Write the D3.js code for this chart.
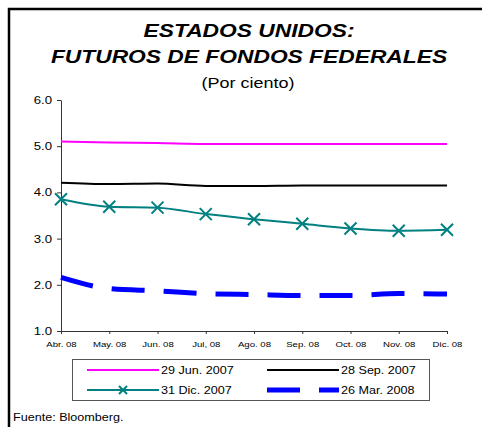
<!DOCTYPE html>
<html>
<head>
<meta charset="utf-8">
<script src="https://cdn.jsdelivr.net/npm/d3@7"></script>
<style>
  body { margin: 0; background: #fff; }
  svg { display: block; font-family: Arial, "Liberation Sans", sans-serif; }
</style>
</head>
<body>
<script>
// data
const months = ['Abr. 08', 'May. 08', 'Jun. 08', 'Jul, 08', 'Ago. 08', 'Sep. 08', 'Oct. 08', 'Nov. 08', 'Dic. 08'];
const jun2007 = [5.10, 5.08, 5.07, 5.05, 5.05, 5.05, 5.05, 5.05, 5.05];
const sep2007 = [4.21, 4.18, 4.19, 4.14, 4.14, 4.15, 4.15, 4.15, 4.15];
const dic2007 = [3.85, 3.69, 3.67, 3.53, 3.42, 3.32, 3.22, 3.17, 3.19];
const mar2008 = [2.16, 1.92, 1.87, 1.81, 1.79, 1.77, 1.77, 1.81, 1.80];
const yTicks = [1, 2, 3, 4, 5, 6];

const series = [
  {name: '29 Jun. 2007', values: jun2007, color: '#ff00ff', width: 2},
  {name: '28 Sep. 2007', values: sep2007, color: '#000000', width: 2},
  {name: '31 Dic. 2007', values: dic2007, color: '#008080', width: 2, marker: true},
  {name: '26 Mar. 2008', values: mar2008, color: '#0000ff', width: 5, dash: '33,19'}
];

const W = 482, H = 427;
const sx = 1.2; // the original text is stretched sideways

const svg = d3.select(document.body).append('svg')
  .attr('width', W)
  .attr('height', H);

// frame (left and top only)
svg.append('path')
  .attr('d', `M9,${H}V9H${W}`)
  .attr('fill', 'none')
  .attr('stroke', '#000')
  .attr('stroke-width', 2.5);

const addText = (x, y, str, size, opts = {}) =>
  svg.append('text')
    .attr('transform', `translate(${x},${y}) scale(${sx},1)`)
    .attr('text-anchor', opts.anchor || 'start')
    .attr('font-size', size)
    .attr('font-weight', opts.bold ? 'bold' : null)
    .attr('font-style', opts.italic ? 'italic' : null)
    .attr('fill', '#000')
    .text(str);

// titles
addText(249, 37, 'ESTADOS UNIDOS:', 19, {anchor: 'middle', bold: true, italic: true});
addText(249, 63, 'FUTUROS DE FONDOS FEDERALES', 19, {anchor: 'middle', bold: true, italic: true});
addText(248, 88, '(Por ciento)', 15, {anchor: 'middle'});

const x = d3.scalePoint().domain(months).range([61, 447]);
const y = d3.scaleLinear().domain([1, 6]).range([331, 100]);

// axes
const yAxis = svg.append('g')
  .attr('transform', 'translate(61,0)')
  .call(d3.axisLeft(y).tickValues(yTicks).tickFormat(d3.format('.1f')).tickSize(4).tickSizeOuter(0));
yAxis.selectAll('text')
  .attr('x', -7.5)
  .attr('font-size', 11)
  .attr('fill', '#000')
  .attr('font-family', 'Arial, "Liberation Sans", sans-serif')
  .attr('transform', `scale(${sx},1)`);

const xAxis = svg.append('g')
  .attr('transform', 'translate(0,331)')
  .call(d3.axisBottom(x).tickSize(3).tickSizeOuter(0));
xAxis.selectAll('text')
  .attr('y', 10)
  .attr('font-size', 8)
  .attr('fill', '#000')
  .attr('font-family', 'Arial, "Liberation Sans", sans-serif')
  .attr('transform', `scale(${sx},1)`);
svg.selectAll('.domain, .tick line').attr('stroke', '#333');

// lines
const line = d3.line()
  .x((d, i) => x(months[i]))
  .y(d => y(d))
  .curve(d3.curveMonotoneX);

series.forEach(s => {
  svg.append('path')
    .datum(s.values)
    .attr('fill', 'none')
    .attr('stroke', s.color)
    .attr('stroke-width', s.width)
    .attr('stroke-dasharray', s.dash || null)
    .attr('d', line);
  if (s.marker) {
    svg.selectAll(null)
      .data(s.values)
      .enter().append('path')
      .attr('transform', (d, i) => `translate(${x(months[i])},${y(d)})`)
      .attr('d', 'M-6,-6L6,6M-6,6L6,-6')
      .attr('stroke', s.color)
      .attr('stroke-width', 2);
  }
});

// legend
svg.append('rect')
  .attr('x', 72.5).attr('y', 359.5)
  .attr('width', 357).attr('height', 41)
  .attr('fill', 'none')
  .attr('stroke', '#555')
  .attr('stroke-width', 1);

const legendPos = [[87, 370], [267, 370], [87, 390], [267, 390]];
series.forEach((s, i) => {
  const [lx, ly] = legendPos[i];
  svg.append('line')
    .attr('x1', lx).attr('x2', lx + 72)
    .attr('y1', ly).attr('y2', ly)
    .attr('stroke', s.color)
    .attr('stroke-width', s.width)
    .attr('stroke-dasharray', s.dash || null);
  if (s.marker) {
    svg.append('path')
      .attr('transform', `translate(${lx + 36},${ly})`)
      .attr('d', 'M-4,-4L4,4M-4,4L4,-4')
      .attr('stroke', s.color)
      .attr('stroke-width', 2);
  }
  addText(lx + 74, ly + 4, s.name, 10.5);
});

addText(13, 421, 'Fuente: Bloomberg.', 10.5);
</script>
</body>
</html>
